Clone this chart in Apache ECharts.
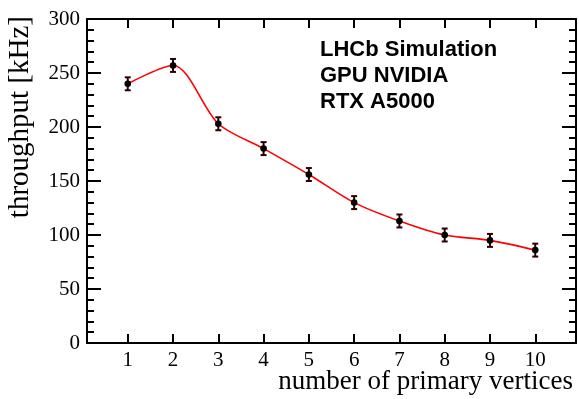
<!DOCTYPE html>
<html>
<head>
<meta charset="utf-8">
<script src="https://cdn.jsdelivr.net/npm/echarts@6/dist/echarts.min.js"></script>
<style>
  html, body { margin: 0; padding: 0; background: #fff; }
  #chart { width: 579px; height: 399px; }
</style>
</head>
<body>
<div id="chart"></div>
<script>
  // number of primary vertices
  var vertices = [1, 2, 3, 4, 5, 6, 7, 8, 9, 10];
  // throughput in kHz
  var throughput = [240, 257, 203, 180, 156, 130, 113, 100, 95, 86];
  var throughputErr = [6, 6, 6, 6, 6, 6, 6, 6, 6, 6];
  var xTicks = [1, 2, 3, 4, 5, 6, 7, 8, 9, 10];
  var yTicks = [0, 50, 100, 150, 200, 250, 300];
  var labelLines = ["LHCb Simulation", "GPU NVIDIA", "RTX A5000"];

  var points = vertices.map(function (x, i) { return [x, throughput[i]]; });
  var errData = vertices.map(function (x, i) { return [x, throughput[i], throughputErr[i]]; });

  var serif = "'Liberation Serif', 'DejaVu Serif', serif";
  var sans = "'Liberation Sans', Arial, sans-serif";

  var myChart = echarts.init(document.getElementById('chart'));

  var xBase = {
    type: 'value',
    min: 0.1,
    max: 10.9,
    axisLine: { show: true, onZero: false, lineStyle: { color: '#000', width: 2 } },
    axisTick: { show: true, inside: true, length: 9, customValues: xTicks, lineStyle: { color: '#000', width: 2 } },
    splitLine: { show: false }
  };
  var yBase = {
    type: 'value',
    min: 0,
    max: 300,
    interval: 50,
    axisLine: { show: true, onZero: false, lineStyle: { color: '#000', width: 2 } },
    axisTick: { show: true, inside: true, length: 14, lineStyle: { color: '#000', width: 2 } },
    minorTick: { show: true, splitNumber: 5, length: 7, lineStyle: { color: '#000', width: 2 } },
    splitLine: { show: false }
  };

  var option = {
    animation: false,
    backgroundColor: '#fff',
    grid: { left: 87, top: 19, width: 489, height: 324, containLabel: false },
    xAxis: [
      Object.assign({}, xBase, {
        position: 'bottom',
        axisLabel: {
          show: true, customValues: xTicks, margin: 7,
          color: '#000', fontFamily: serif, fontSize: 21
        }
      }),
      Object.assign({}, xBase, {
        position: 'top',
        axisLabel: { show: false }
      })
    ],
    yAxis: [
      Object.assign({}, yBase, {
        position: 'left',
        axisLabel: {
          show: true, margin: 7,
          color: '#000', fontFamily: serif, fontSize: 21,
          customValues: yTicks
        }
      }),
      Object.assign({}, yBase, {
        position: 'right',
        axisLabel: { show: false }
      })
    ],
    graphic: [
      {
        type: 'text',
        x: 20, y: 16,
        rotation: Math.PI / 2,
        style: {
          text: 'throughput [kHz]',
          fill: '#000',
          font: '29px ' + serif,
          align: 'right',
          verticalAlign: 'middle'
        }
      },
      {
        type: 'text',
        x: 573, y: 382,
        style: {
          text: 'number of primary vertices',
          fill: '#000',
          font: '27px ' + serif,
          align: 'right',
          verticalAlign: 'middle'
        }
      },
      {
        type: 'text',
        x: 320, y: 37,
        style: {
          text: labelLines.join('\n'),
          fill: '#000',
          font: 'bold 22px ' + sans,
          lineHeight: 26,
          align: 'left',
          verticalAlign: 'top'
        }
      }
    ],
    series: [
      {
        name: 'throughput',
        type: 'line',
        xAxisIndex: 0,
        yAxisIndex: 0,
        data: points,
        smooth: 0.3,
        showSymbol: false,
        symbol: 'none',
        lineStyle: { color: '#ff0000', width: 1.6 },
        z: 2
      },
      {
        name: 'errors',
        type: 'custom',
        xAxisIndex: 0,
        yAxisIndex: 0,
        data: errData,
        z: 3,
        renderItem: function (params, api) {
          var x = api.value(0), y = api.value(1), e = api.value(2);
          var top = api.coord([x, y + e]);
          var bot = api.coord([x, y - e]);
          var c = api.coord([x, y]);
          var hw = 3;
          var stroke = { stroke: '#2a0000', lineWidth: 2 };
          return {
            type: 'group',
            children: [
              { type: 'line', shape: { x1: top[0], y1: top[1], x2: bot[0], y2: bot[1] }, style: stroke },
              { type: 'line', shape: { x1: top[0] - hw, y1: top[1], x2: top[0] + hw, y2: top[1] }, style: stroke },
              { type: 'line', shape: { x1: bot[0] - hw, y1: bot[1], x2: bot[0] + hw, y2: bot[1] }, style: stroke },
              { type: 'circle', shape: { cx: c[0], cy: c[1], r: 3.3 }, style: { fill: '#000' } }
            ]
          };
        }
      }
    ]
  };

  myChart.setOption(option);
</script>
</body>
</html>
